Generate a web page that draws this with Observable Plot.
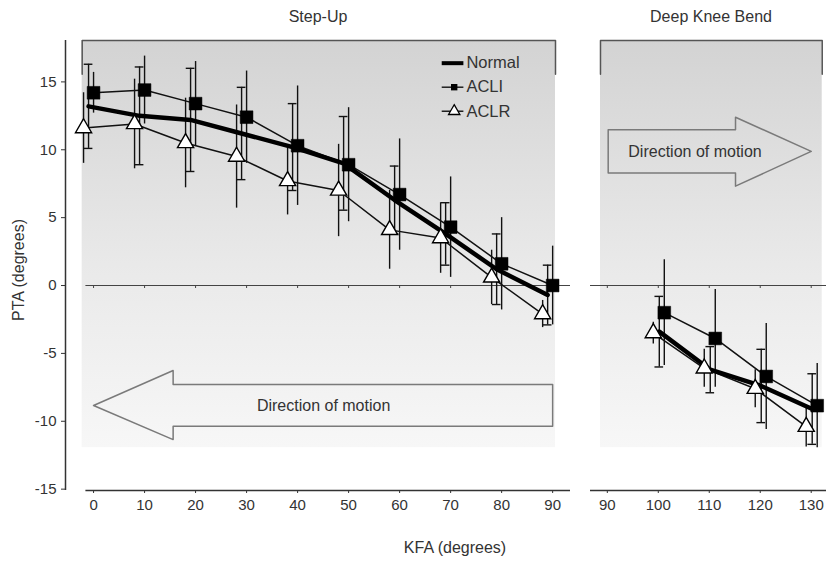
<!DOCTYPE html>
<html><head><meta charset="utf-8">
<script src="https://cdn.jsdelivr.net/npm/d3@7"></script>
<script src="https://cdn.jsdelivr.net/npm/@observablehq/plot@0.6"></script>
<style>
body{margin:0;background:#fff;font-family:"Liberation Sans",Arial,sans-serif;}
#wrap{position:relative;width:826px;height:562px;overflow:hidden;}
.panel{position:absolute;top:0;}
.lbl{position:absolute;color:#333;font-size:16px;white-space:nowrap;transform:translate(-50%,-50%);}
</style></head><body>
<div id="wrap"></div>
<script>
// ---- data ----
const groups = ["Normal", "ACLI", "ACLR"];

const stepKFA = [0, 10, 20, 30, 40, 50, 60, 70, 80, 90];
const stepNormal   = [13.2, 12.5, 12.2, 11.2, 10.2, 9.0, 6.3, 3.8, 1.2, -0.7];
const stepNormalSD = [3.1, 3.6, 3.8, 3.4, 3.2, 3.45, 2.5, 2.3, 2.6, 2.2];
const stepACLI     = [14.2, 14.4, 13.4, 12.4, 10.3, 8.9, 6.7, 4.3, 1.6, 0.0];
const stepACLISD   = [1.5, 2.5, 3.1, 3.4, 4.4, 4.2, 4.1, 3.7, 3.4, 2.9];
const stepACLR     = [11.6, 11.9, 10.5, 9.5, 7.7, 7.0, 4.1, 3.5, 0.6, -2.1];
const stepACLRSD   = [2.6, 3.3, 3.3, 3.8, 2.5, 3.4, 2.9, 2.6, 2.0, 1.0];

const dkbKFA = [100, 110, 120, 130];
const dkbNormal   = [-3.4, -6.2, -7.4, -9.1];
const dkbNormalSD = [2.6, 1.7, 2.7, 2.6];
const dkbACLI     = [-2.0, -3.9, -6.7, -8.85];
const dkbACLISD   = [3.9, 3.6, 3.9, 3.1];
const dkbACLR     = [-3.5, -6.1, -7.6, -10.4];
const dkbACLRSD   = [0.8, 1.4, 1.4, 1.5];

const yTicks = [-15, -10, -5, 0, 5, 10, 15];
const stepTicks = [0, 10, 20, 30, 40, 50, 60, 70, 80, 90];
const dkbTicks = [90, 100, 110, 120, 130];

const titles = ["Step-Up", "Deep Knee Bend"];
const arrowText = "Direction of motion";
const yLabel = "PTA (degrees)";
const xLabel = "KFA (degrees)";

// ---- helpers ----
const rows = (xs, vals, sds, group) => xs.map((x, i) => ({x, v: vals[i], sd: sds[i], group}));
const yDomain = [-15.1, 18.05];
const FONT = "Liberation Sans, Arial, sans-serif";

const gradient = (id) => () => {
  const defs = d3.create("svg:defs");
  const lg = defs.append("linearGradient").attr("id", id)
    .attr("x1", "0").attr("y1", "0").attr("x2", "0").attr("y2", "1");
  [["0%", "#d3d3d3"], ["55%", "#e9e9e9"], ["100%", "#f7f7f7"]]
    .forEach(([o, c]) => lg.append("stop").attr("offset", o).attr("stop-color", c));
  return defs.node();
};

function panel(cfg) {
  const {id, width, marginLeft, marginRight, xDomain, bg, ticks, data, dx, arrow, legend, yAxis, lineExtent} = cfg;
  const marks = [];
  marks.push(gradient(id));
  marks.push(Plot.rect([bg], {x1: "x1", x2: "x2", y1: "y1", y2: "y2", fill: `url(#${id})`}));
  // bracket at top
  marks.push(Plot.line([
    {x: bg.x1, y: 15.56}, {x: bg.x1, y: bg.y2}, {x: bg.x2, y: bg.y2}, {x: bg.x2, y: 15.56}
  ], {x: "x", y: "y", stroke: "#555", strokeWidth: 1.5}));
  // zero line with ticks
  marks.push(Plot.ruleY([0], {x1: lineExtent[0], x2: lineExtent[1], stroke: "#444", strokeWidth: 1.2}));
  marks.push(Plot.ruleX(ticks, {x: d => d, y1: 0, y2: -0.22, stroke: "#444", strokeWidth: 1}));
  // bottom axis
  marks.push(Plot.ruleY([yDomain[0]], {x1: lineExtent[0], x2: lineExtent[1], stroke: "#333", strokeWidth: 1.5}));
  marks.push(Plot.axisX({ticks, tickSize: 3, tickPadding: 6, label: null, fontSize: 15, tickFormat: d => String(d)}));
  if (yAxis) {
    marks.push(Plot.ruleX([xDomain[0]], {y1: yDomain[0], y2: yDomain[1], stroke: "#333", strokeWidth: 1.5}));
    marks.push(Plot.axisY({ticks: yTicks, tickSize: 4, tickPadding: 5, label: null, fontSize: 15, tickFormat: d => String(d)}));
  }
  // arrow
  marks.push(Plot.line(arrow.pts, {x: "x", y: "y", stroke: "#7a7a7a", strokeWidth: 1.5, fill: "none"}));
  marks.push(Plot.text([arrow.label], {x: "x", y: "y", text: "t", fontSize: 16, fill: "#333"}));

  const byG = g => data.filter(d => d.group === g);
  // error bars
  for (const g of ["ACLR", "Normal", "ACLI"]) {
    marks.push(Plot.ruleX(byG(g), {x: "x", y1: d => d.v - d.sd, y2: d => d.v + d.sd, dx: dx[g], stroke: "#111", strokeWidth: 1.4}));
  }
  const capW = 0.85;
  for (const s of [-1, 1]) {
    marks.push(Plot.ruleY(byG("Normal"), {y: d => d.v + s * d.sd, x1: d => d.x - capW, x2: d => d.x + capW, dx: dx.Normal, stroke: "#111", strokeWidth: 1.4}));
  }
  // lines
  marks.push(Plot.line(byG("ACLR"), {x: "x", y: "v", dx: dx.ACLR, stroke: "#111", strokeWidth: 1.5}));
  marks.push(Plot.line(byG("ACLI"), {x: "x", y: "v", dx: dx.ACLI, stroke: "#111", strokeWidth: 1.5}));
  marks.push(Plot.line(byG("Normal"), {x: "x", y: "v", dx: dx.Normal, stroke: "#000", strokeWidth: 4.5}));
  // markers
  marks.push(Plot.dot(byG("ACLI"), {x: "x", y: "v", dx: dx.ACLI, symbol: "square", r: 7.2, fill: "#000", stroke: "#000", strokeWidth: 0.5}));
  marks.push(Plot.dot(byG("ACLR"), {x: "x", y: "v", dx: dx.ACLR, symbol: "triangle", r: 6, fill: "#fff", stroke: "#000", strokeWidth: 1.4}));

  if (legend) {
    const L = legend;
    const lr = groups.map((g, i) => ({g, y: L.y[i]}));
    marks.push(Plot.ruleY(lr.filter(d => d.g === "Normal"), {y: "y", x1: L.x1, x2: L.x2, stroke: "#000", strokeWidth: 4}));
    marks.push(Plot.ruleY(lr.filter(d => d.g !== "Normal"), {y: "y", x1: L.x1, x2: L.x2, stroke: "#111", strokeWidth: 1.4}));
    marks.push(Plot.dot(lr.filter(d => d.g === "ACLI"), {x: L.xm, y: "y", symbol: "square", r: 3.6, fill: "#000"}));
    marks.push(Plot.dot(lr.filter(d => d.g === "ACLR"), {x: L.xm, y: "y", symbol: "triangle", r: 4.2, fill: "#fff", stroke: "#000", strokeWidth: 1.3}));
    marks.push(Plot.text(lr, {x: L.xt, y: "y", text: "g", textAnchor: "start", fontSize: 16.5, fill: "#333"}));
  }

  const el = Plot.plot({
    width, height: 562,
    marginLeft, marginRight, marginTop: 40, marginBottom: 72,
    x: {domain: xDomain, axis: null},
    y: {domain: yDomain, axis: null},
    style: {fontFamily: FONT, color: "#333", background: "transparent", overflow: "visible"},
    marks
  });
  return el;
}

const stepData = [
  ...rows(stepKFA, stepNormal, stepNormalSD, "Normal"),
  ...rows(stepKFA, stepACLI, stepACLISD, "ACLI"),
  ...rows(stepKFA, stepACLR, stepACLRSD, "ACLR")
];
const dkbData = [
  ...rows(dkbKFA, dkbNormal, dkbNormalSD, "Normal"),
  ...rows(dkbKFA, dkbACLI, dkbACLISD, "ACLI"),
  ...rows(dkbKFA, dkbACLR, dkbACLRSD, "ACLR")
];

const left = panel({
  id: "gA", width: 580, marginLeft: 65, marginRight: 10,
  xDomain: [-5.5, 93.5],
  bg: {x1: -2.23, x2: 90.56, y1: -11.94, y2: yDomain[1]},
  lineExtent: [-1.5, 93.5],
  ticks: stepTicks, data: stepData,
  dx: {ACLR: -10, Normal: -5, ACLI: 0},
  yAxis: true,
  arrow: {
    pts: [{x: 0, y: -8.84}, {x: 15.6, y: -6.26}, {x: 15.6, y: -7.3}, {x: 90, y: -7.3},
          {x: 90, y: -10.37}, {x: 15.6, y: -10.37}, {x: 15.6, y: -11.35}, {x: 0, y: -8.84}],
    label: {x: 45.1, y: -8.84, t: arrowText}
  },
  legend: {x1: 68.35, x2: 72.6, xm: 70.7, xt: 73.1, y: [16.38, 14.61, 12.84]}
});

const right = panel({
  id: "gB", width: 246, marginLeft: 10, marginRight: 0,
  xDomain: [86.7, 133],
  bg: {x1: 88.66, x2: 132.16, y1: -11.94, y2: yDomain[1]},
  lineExtent: [86.7, 133],
  ticks: dkbTicks, data: dkbData,
  dx: {ACLR: -5, Normal: 1, ACLI: 6},
  yAxis: false,
  arrow: {
    pts: [{x: 90.17, y: 11.47}, {x: 115.15, y: 11.47}, {x: 115.15, y: 12.4}, {x: 130.0, y: 9.88},
          {x: 115.15, y: 7.32}, {x: 115.15, y: 8.28}, {x: 90.17, y: 8.28}, {x: 90.17, y: 11.47}],
    label: {x: 107.2, y: 9.88, t: arrowText}
  },
  legend: null
});

const wrap = document.getElementById("wrap");
left.classList.add("panel"); left.style.left = "0px";
right.classList.add("panel"); right.style.left = "580px";
wrap.appendChild(left);
wrap.appendChild(right);

const addLabel = (text, x, y, rot) => {
  const d = document.createElement("div");
  d.className = "lbl";
  d.textContent = text;
  d.style.left = x + "px"; d.style.top = y + "px";
  if (rot) d.style.transform = "translate(-50%,-50%) rotate(-90deg)";
  wrap.appendChild(d);
};
addLabel(titles[0], 318, 17);
addLabel(titles[1], 711, 17);
addLabel(yLabel, 19, 270, true);
addLabel(xLabel, 455, 548);
</script>
</body></html>
